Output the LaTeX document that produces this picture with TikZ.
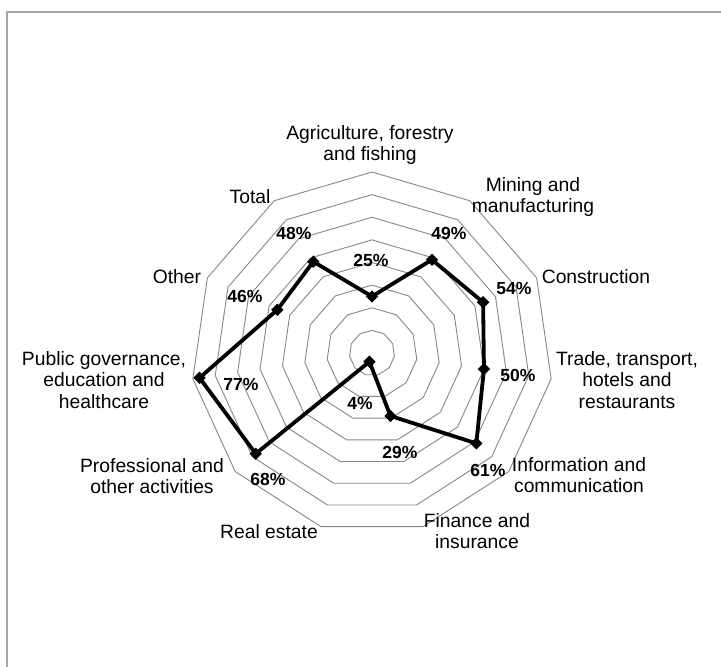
\documentclass[tikz,border=0pt]{standalone}
\usepackage{fontspec}
\setmainfont{Liberation Sans}
\usepackage{tikz}
\tikzset{>=latex}
\usetikzlibrary{shapes.geometric}

\begin{document}
\begin{tikzpicture}[x=1pt, y=-1pt,
    ring/.style={draw=gray!95, line width=0.9pt},
    dataline/.style={line width=3.8pt, line join=round},
    datamark/.style={diamond, fill=black, inner sep=0pt, minimum size=12.5pt},
    catlabel/.style={font=\fontsize{19.3}{21.8}\selectfont, align=center, inner sep=0pt},
    pctlabel/.style={font=\fontsize{17.5}{20}\selectfont\bfseries, inner sep=0pt}]
    \useasboundingbox (0,0) rectangle (721,667);

    % Frame (runs off the page on the right and at the bottom)
    \draw[gray!70, line width=1.8pt] (721,12) -- (7,12) -- (7,667);

    % Grid: 8 rings of an 11-gon, 10% each
    \foreach \k in {1,...,8} {
        \pgfmathsetmacro\r{22.625*\k}
        \draw[ring] (372,{353-\r}) \foreach \i in {1,...,10} {
            -- ({372+\r*sin(\i*360/11)},{353-\r*cos(\i*360/11)}) } -- cycle;
    }

    % Data points
    \foreach \v [count=\i from 0] in {25,49,54,50,61,29,4,68,77,46,48} {
        \node[datamark] (p\i) at ({372+2.2625*\v*sin(\i*360/11)},{353-2.2625*\v*cos(\i*360/11)}) {};
    }
    \draw[dataline] (p0.center) \foreach \i in {1,...,10} { -- (p\i.center) } -- cycle;

    % Value labels
    \foreach \x/\y/\t [count=\i from 0] in {371/260/25, 449/233/49, 514/288/54, 518/375/50,
            488/470/61, 400/452/29, 360/403/4, 268/479/68, 241/384/77, 245/296/46, 294/233/48} {
        \node[pctlabel] (v\i) at (\x,\y) {\t\%};
    }

    % Category labels
    \node[catlabel] (agri) at (370,145) {Agriculture, forestry\\and fishing};
    \node[catlabel] (mining) at (533,197) {Mining and\\manufacturing};
    \node[catlabel] (constr) at (596,277) {Construction};
    \node[catlabel] (trade) at (627,380) {Trade, transport,\\hotels and\\restaurants};
    \node[catlabel] (info) at (579,475) {Information and\\communication};
    \node[catlabel] (fin) at (477,531) {Finance and\\insurance};
    \node[catlabel] (realest) at (269,532) {Real estate};
    \node[catlabel] (prof) at (152,476) {Professional and\\other activities};
    \node[catlabel] (public) at (104,380) {Public governance,\\education and\\healthcare};
    \node[catlabel] (other) at (177,277) {Other};
    \node[catlabel] (total) at (250,197) {Total};
\end{tikzpicture}
\end{document}
